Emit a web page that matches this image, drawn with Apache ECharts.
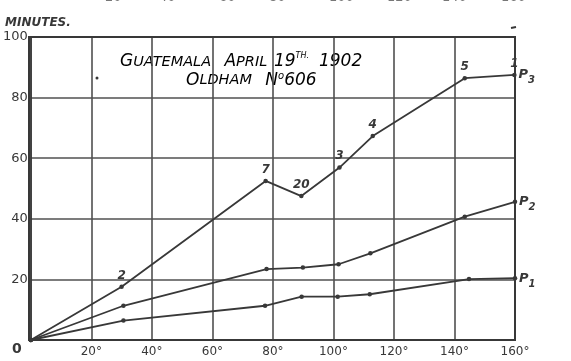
<!DOCTYPE html>
<html><head><meta charset="utf-8">
<script src="https://cdn.jsdelivr.net/npm/echarts@6/dist/echarts.min.js"></script>
<style>html,body{margin:0;padding:0;background:#fff}#c{width:571px;height:361px}</style>
</head><body><div id="c"></div>
<script>
// Data (x: degrees, y: minutes)
var xTicks = [0, 20, 40, 60, 80, 100, 120, 140, 160];
var yTicks = [0, 20, 40, 60, 80, 100];
var p3X = [0, 30, 77.6, 89.4, 102, 113, 143.4, 159.8];
var p3Y = [0, 17.6, 52.5, 47.5, 56.9, 67.3, 86.4, 87.5];
var p3Labels = ['', '2', '7', '20', '3', '4', '5', '1'];
var p2X = [0, 30.6, 77.9, 89.9, 101.7, 112.2, 143.4, 160];
var p2Y = [0, 11.3, 23.4, 23.9, 25.0, 28.6, 40.7, 45.6];
var p1X = [0, 30.6, 77.4, 89.5, 101.4, 112, 144.8, 160];
var p1Y = [0, 6.4, 11.3, 14.3, 14.3, 15.1, 20.1, 20.4];
var seriesNames = ['P3', 'P2', 'P1'];
var topStripLabels = ['20', '40', '60', '80', '100', '120', '140', '160'];

var ink = '#383838';
var font = 'DejaVu Sans';

function pts(xs, ys, labels) {
  return xs.map(function (x, i) {
    var d = { value: [x, ys[i]] };
    if (labels && labels[i]) d.label = { show: true, formatter: labels[i] };
    return d;
  });
}
function endLabel(name) {
  return {
    show: true, distance: 4,
    formatter: function () { return '{p|' + name.charAt(0) + '}{s|' + name.slice(1) + '}'; },
    rich: {
      p: { fontFamily: font, fontStyle: 'italic', fontSize: 13, color: ink, fontWeight: 'bold' },
      s: { fontFamily: font, fontStyle: 'italic', fontSize: 10, color: ink, fontWeight: 'bold', padding: [12, 0, 0, 0] }
    }
  };
}
function mkSeries(name, xs, ys, labels) {
  return {
    name: name, type: 'line', data: pts(xs, ys, labels),
    symbol: 'circle', symbolSize: 4.5, showSymbol: true,
    lineStyle: { color: ink, width: 1.8 }, itemStyle: { color: ink },
    label: { show: false, position: 'top', distance: 3, fontFamily: font, fontStyle: 'italic', fontWeight: 'bold', fontSize: 12, color: ink },
    endLabel: endLabel(name), animation: false, z: 5
  };
}

var chart = echarts.init(document.getElementById('c'));
var topStrip = topStripLabels.map(function (t, i) {
  var xs = [113, 167, 227, 277, 337, 395, 450, 509];
  return { type: 'text', x: xs[i] - 8, y: -9, style: { text: t, fontFamily: font, fontSize: 13, fill: '#777' } };
});
chart.setOption({
  animation: false,
  grid: { left: 29, right: 56, top: 37, bottom: 21, containLabel: false },
  xAxis: {
    type: 'value', min: 0, max: 160, interval: 20,
    axisLine: { show: true, onZero: false, lineStyle: { color: ink, width: 2 } },
    axisTick: { show: false },
    splitLine: { show: true, lineStyle: { color: '#505050', width: 1.6 } },
    axisLabel: {
      margin: 6, fontFamily: font, fontSize: 12, color: ink,
      formatter: function (v) { return v === 0 ? '' : v + '°'; }
    }
  },
  yAxis: {
    type: 'value', min: 0, max: 100, interval: 20,
    axisLine: { show: true, lineStyle: { color: ink, width: 1.6 } },
    axisTick: { show: false },
    splitLine: { show: true, lineStyle: { color: '#505050', width: 1.6 } },
    axisLabel: {
      margin: 3, fontFamily: font, fontSize: 13, color: ink,
      formatter: function (v) { return v === 0 ? '{z|0}' : String(v); },
      rich: { z: { fontFamily: font, fontSize: 14, fontWeight: 'bold', color: ink, padding: [18, 6, 0, 0] } }
    }
  },
  graphic: topStrip.concat([
    { type: 'rect', shape: { x: 29, y: 37, width: 486, height: 303 }, style: { fill: 'none', stroke: ink, lineWidth: 2 }, z: 10 },
    { type: 'text', left: 5, top: 17, style: { text: 'MINUTES.', fontFamily: font, fontStyle: 'italic', fontWeight: 'bold', fontSize: 12, fill: ink } },
    { type: 'text', left: 120, top: 52, style: {
      text: '{a|G}{b|UATEMALA}    {a|A}{b|PRIL}  {a|19}{c|TH.}   {a|1902}',
      rich: {
        a: { fontFamily: font, fontStyle: 'italic', fontSize: 17, color: ink },
        b: { fontFamily: font, fontStyle: 'italic', fontSize: 14.5, color: ink },
        c: { fontFamily: font, fontStyle: 'italic', fontSize: 8, color: ink, padding: [0, 0, 12, 0] }
      } } },
    { type: 'text', left: 186, top: 71, style: {
      text: '{a|O}{b|LDHAM}    {a|N}{c|o}{a|606}',
      rich: {
        a: { fontFamily: font, fontStyle: 'italic', fontSize: 17, color: ink },
        b: { fontFamily: font, fontStyle: 'italic', fontSize: 14.5, color: ink },
        c: { fontFamily: font, fontStyle: 'italic', fontSize: 10, color: ink, padding: [0, 0, 9, 0] }
      } } },
    { type: 'circle', shape: { cx: 97, cy: 78, r: 1.5 }, style: { fill: ink } },
    { type: 'line', shape: { x1: 511, y1: 28, x2: 516, y2: 27 }, style: { stroke: ink, lineWidth: 2 } }
  ]),
  series: [
    mkSeries(seriesNames[0], p3X, p3Y, p3Labels),
    mkSeries(seriesNames[1], p2X, p2Y),
    mkSeries(seriesNames[2], p1X, p1Y)
  ]
});
</script></body></html>
